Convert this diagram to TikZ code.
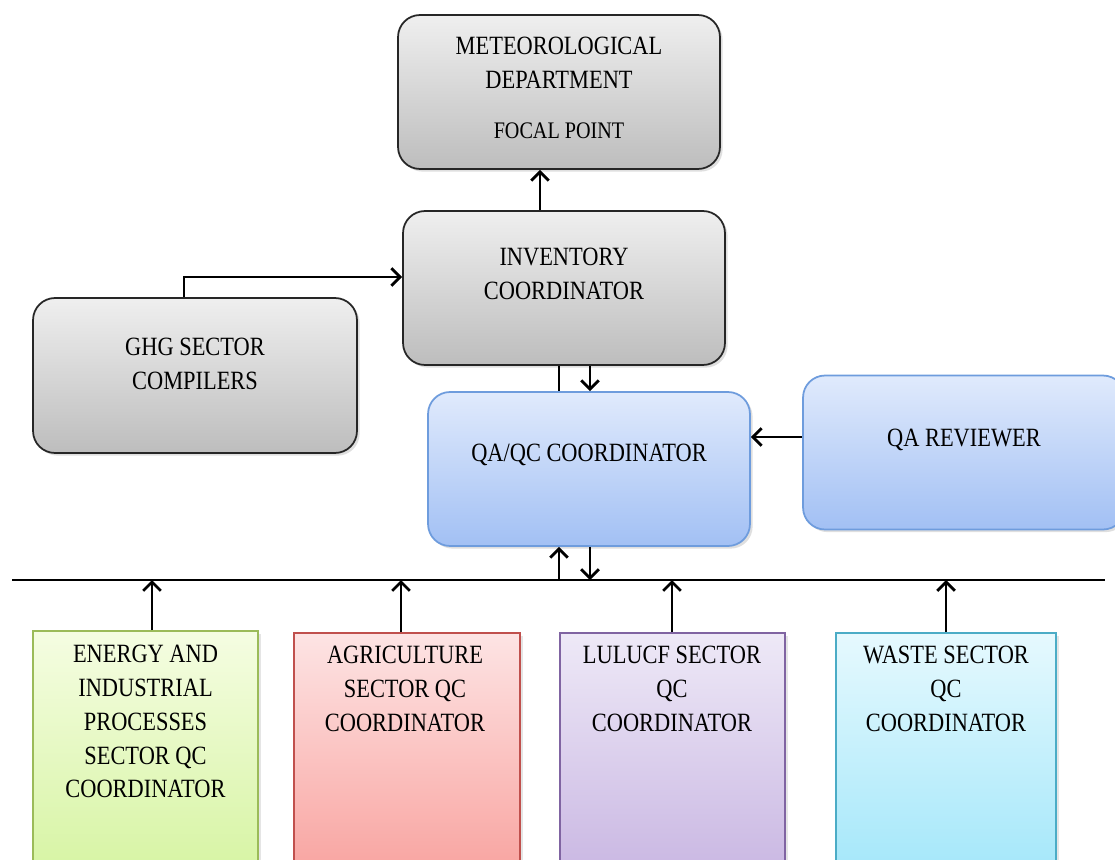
\documentclass[tikz,border=0pt]{standalone}
\usepackage{fontspec}
\setmainfont[FakeStretch=0.85]{Liberation Serif}
\usepackage{tikz}
\usetikzlibrary{arrows.meta, shadows}

\definecolor{grayTop}{HTML}{EFEFEF}
\definecolor{grayBot}{HTML}{BDBDBD}
\definecolor{blueTop}{HTML}{E0EAFC}
\definecolor{blueBot}{HTML}{A2C0F4}
\definecolor{blueLine}{HTML}{6E9CDD}
\definecolor{greenTop}{HTML}{F5FDE2}
\definecolor{greenBot}{HTML}{D3F39C}
\definecolor{greenLine}{HTML}{9BBB59}
\definecolor{redTop}{HTML}{FDE4E4}
\definecolor{redBot}{HTML}{F89C98}
\definecolor{redLine}{HTML}{C0504D}
\definecolor{purpleTop}{HTML}{EEE9F7}
\definecolor{purpleBot}{HTML}{C5B1E0}
\definecolor{purpleLine}{HTML}{8064A2}
\definecolor{cyanTop}{HTML}{E6F9FE}
\definecolor{cyanBot}{HTML}{9CE5F9}
\definecolor{cyanLine}{HTML}{4BACC6}

\begin{document}
\begin{tikzpicture}[
x=0.02cm, y=-0.02cm,
every node/.style={font=\fontsize{15pt}{19.3pt}\selectfont, align=center, inner sep=0pt},
box/.style={line width=1pt, rounded corners=0.44cm, minimum width=6.44cm, minimum height=3.08cm,
  drop shadow={opacity=0.25, shadow xshift=1.5pt, shadow yshift=-1.5pt}},
graybox/.style={box, draw=black!85, top color=grayTop, bottom color=grayBot},
bluebox/.style={box, draw=blueLine, top color=blueTop, bottom color=blueBot},
sqbox/.style={line width=1pt, anchor=north, minimum height=5.4cm,
  drop shadow={opacity=0.2, shadow xshift=1.5pt, shadow yshift=-1.5pt}},
arrow/.style={-{Straight Barb[length=5pt,width=10pt]}, line width=1.6pt},
bus/.style={line width=1.6pt}
]

\useasboundingbox (0,0) rectangle (1115,859);
\clip (0,0) rectangle (1115,859);
\fill[white] (0,0) rectangle (1115,859);

\node[graybox] (met) at (559,92) {};
\node (met-t) at (559,88) {METEOROLOGICAL\\DEPARTMENT\\[9pt]{\fontsize{13.5pt}{16pt}\selectfont FOCAL POINT}};

\node[graybox] (inv) at (564,288) {};
\node (inv-t) at (564,273.5) {INVENTORY\\COORDINATOR};

\node[graybox, minimum width=6.48cm, minimum height=3.1cm] (ghg) at (195,375.5) {};
\node (ghg-t) at (195,364) {GHG SECTOR\\COMPILERS};

\node[bluebox] (qaqc) at (589,469) {};
\node (qaqc-t) at (589,455) {QA/QC COORDINATOR};

\node[bluebox] (qarev) at (964,452.5) {};
\node (qarev-t) at (964,440) {QA REVIEWER};

\node[sqbox, draw=greenLine, top color=greenTop, bottom color=greenBot, minimum width=4.5cm] (energy) at (145.5,630) {};
\node (energy-t) at (145.5,721.5) {ENERGY AND\\INDUSTRIAL\\PROCESSES\\SECTOR QC\\COORDINATOR};

\node[sqbox, draw=redLine, top color=redTop, bottom color=redBot, minimum width=4.52cm] (agri) at (407,632) {};
\node (agri-t) at (405,689) {AGRICULTURE\\SECTOR QC\\COORDINATOR};

\node[sqbox, draw=purpleLine, top color=purpleTop, bottom color=purpleBot, minimum width=4.5cm] (lulucf) at (672.5,632) {};
\node (lulucf-t) at (672,689) {LULUCF SECTOR\\QC\\COORDINATOR};

\node[sqbox, draw=cyanLine, top color=cyanTop, bottom color=cyanBot, minimum width=4.4cm] (waste) at (946,632) {};
\node (waste-t) at (946,689) {WASTE SECTOR\\QC\\COORDINATOR};

\coordinate (busL) at (12,580);
\coordinate (busR) at (1105,580);
\draw[bus] (busL) -- (busR);

\draw[arrow] (inv.north -| 540,0) -- (met.south -| 540,0);
\draw[arrow] (ghg.north -| 184,0) |- (inv.west |- 0,277);
\draw[line width=1.6pt] (inv.south -| 559,0) -- (qaqc.north -| 559,0);
\draw[arrow] (inv.south -| 590,0) -- (qaqc.north -| 590,0);
\draw[arrow] (qarev.west |- 0,437) -- (qaqc.east |- 0,437);
\draw[arrow] (busL -| 559,0) -- (qaqc.south -| 559,0);
\draw[arrow] (qaqc.south -| 590,0) -- (busL -| 590,0);

\draw[arrow] (energy.north -| 152,0) -- (busL -| 152,0);
\draw[arrow] (agri.north -| 401,0) -- (busL -| 401,0);
\draw[arrow] (lulucf.north -| 672,0) -- (busL -| 672,0);
\draw[arrow] (waste.north -| 946,0) -- (busL -| 946,0);

\end{tikzpicture}
\end{document}
